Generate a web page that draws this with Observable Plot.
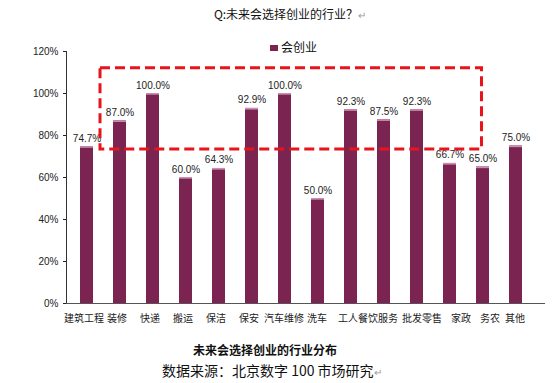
<!DOCTYPE html>
<html><head><meta charset="utf-8">
<script src="https://cdn.jsdelivr.net/npm/d3@7"></script>
<script src="https://cdn.jsdelivr.net/npm/@observablehq/plot@0.6"></script>
<style>
body{margin:0;background:#fff;font-family:"Noto Sans CJK SC","Noto Sans",sans-serif;color:#111;}
#wrap{position:relative;width:554px;height:383px;overflow:hidden;}
#title{position:absolute;left:0;width:580px;top:5px;text-align:center;font-size:12px;line-height:18px;}
.ret{color:#999;font-size:10px;}
#legend{position:absolute;left:270px;top:38px;font-size:12px;line-height:18px;z-index:2;}
#legend .sw{display:inline-block;width:8px;height:6px;background:#7b2452;margin-right:3px;vertical-align:1px;}
#chart{position:absolute;left:0;top:30px;}
#cap{position:absolute;left:0;width:530px;top:341px;text-align:center;font-size:12px;font-weight:bold;line-height:18px;}
#src{position:absolute;left:162px;top:360px;font-size:14px;line-height:20px;}
</style></head><body>
<div id="wrap">
 <div id="title">Q:未来会选择创业的行业？<span class="ret">↵</span></div>
 <div id="legend"><span class="sw"></span>会创业</div>
 <div id="chart"></div>
 <div id="cap">未来会选择创业的行业分布</div>
 <div id="src">数据来源：北京数字 100 市场研究<span class="ret">↵</span></div>
</div>
<script>
const categories = ["建筑工程","装修","快递","搬运","保洁","保安","汽车维修","洗车","工人","餐饮服务","批发零售","家政","务农","其他"];
const values = [74.7, 87.0, 100.0, 60.0, 64.3, 92.9, 100.0, 50.0, 92.3, 87.5, 92.3, 66.7, 65.0, 75.0];
const yTicks = [0, 20, 40, 60, 80, 100, 120];
const seriesName = "会创业";
const highlightFrom = "装修";
const highlightTo = "务农";
const highlightTop = 112;
const highlightBottom = 73.3;

const data = categories.map((c, i) => ({cat: c, v: values[i]}));
const barColor = "#7b2452";

// tick label groups (layout only: small horizontal nudges as in the reference)
const labelGroups = [
  {ticks: ["建筑工程","装修","快递","搬运","保洁","保安","工人"], dx: -3},
  {ticks: ["汽车维修","洗车","其他"], dx: -1},
  {ticks: ["餐饮服务"], dx: -6},
  {ticks: ["批发零售"], dx: 5},
  {ticks: ["家政"], dx: 11},
  {ticks: ["务农"], dx: 7}
];

const highlightMark = (index, scales, values, dims) => {
  const x = scales.x, y = scales.y;
  const bw = (scales.scales && scales.scales.x && scales.scales.x.bandwidth) || 13;
  const step = x(categories[1]) - x(categories[0]);
  const left = x(highlightFrom) - (step - bw) / 2 - 3;
  const right = x(highlightTo) + bw / 2 - 1;
  const top = y(highlightTop), bottom = y(highlightBottom);
  return d3.create("svg:rect")
    .attr("x", left).attr("y", top)
    .attr("width", right - left).attr("height", bottom - top)
    .attr("fill", "none").attr("stroke", "#e8141c")
    .attr("stroke-width", 3).attr("stroke-dasharray", "10,5").node();
};

const chart = Plot.plot({
  width: 554, height: 300,
  marginLeft: 66, marginRight: 9, marginTop: 21, marginBottom: 27,
  style: {fontFamily: "'Liberation Sans', Arial, sans-serif", background: "transparent", color: "#222"},
  x: {domain: categories, paddingInner: 0.61, paddingOuter: 0.28, insetLeft: 1, insetRight: 11, label: null},
  y: {domain: [0, 120], label: null},
  marks: [
    Plot.barY(data, {x: "cat", y: "v", fill: barColor}),
    Plot.rectY(data, {x: "cat", y1: d => d.v - 0.8, y2: "v", fill: "#c88fae"}),
    Plot.frame({anchor: "left", stroke: "#333"}),
    Plot.ruleY([0], {stroke: "#555"}),
    Plot.axisY({ticks: yTicks, tickFormat: d => d + "%", tickSize: 3, tickPadding: 5, fontSize: 10, label: null}),
    ...labelGroups.map(g => Plot.axisX({ticks: g.ticks, dx: g.dx, tickSize: 0, tickPadding: 11, fontSize: 10, fontFamily: "'Noto Sans CJK SC', sans-serif", fill: "#222", label: null})),
    Plot.text(data, {x: "cat", y: "v", text: d => d.v.toFixed(1) + "%", dy: -5, lineAnchor: "bottom", fontSize: 10, fill: "#222"}),
    highlightMark
  ]
});
document.getElementById("chart").appendChild(chart);
</script>
</body></html>
